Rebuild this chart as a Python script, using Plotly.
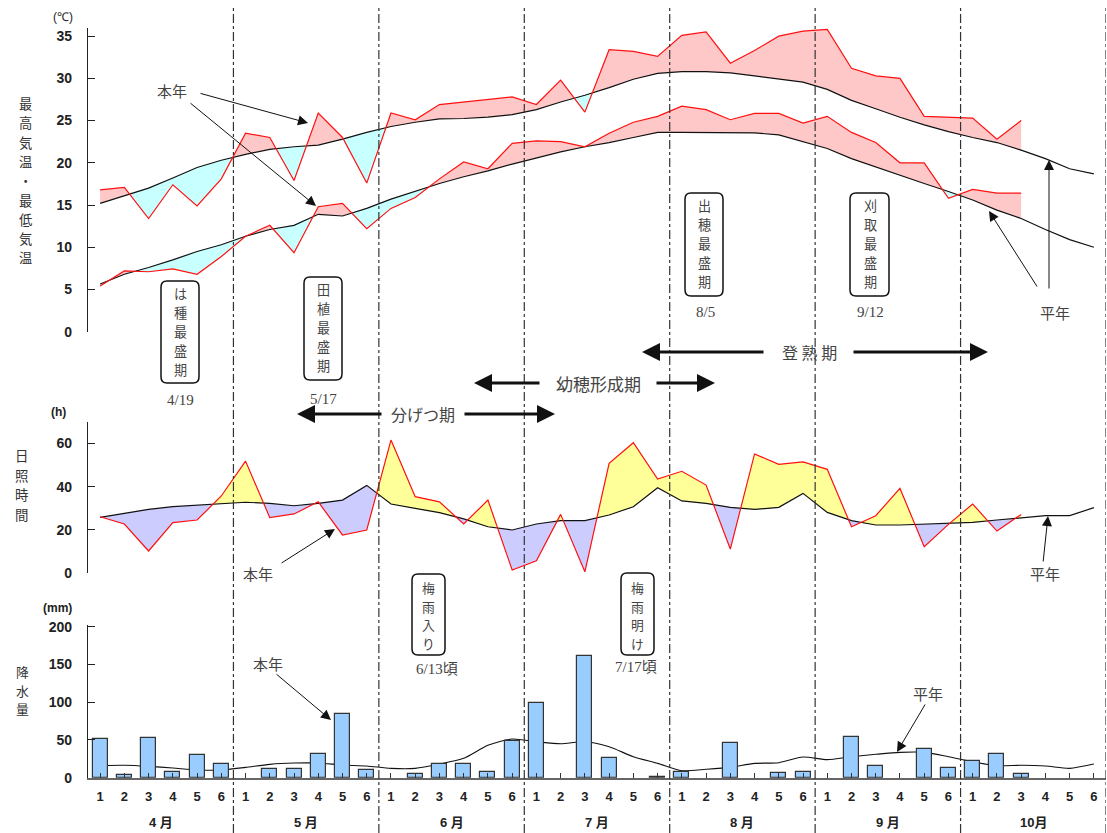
import plotly.graph_objects as go

W, H = 1107, 833
ML, MR = 88, 1
PW = W - ML - MR

# ---------------- data ----------------
periods = list(range(42))
period_labels = [str(i) for i in range(1, 7)] * 7
months = ["4 月", "5 月", "6 月", "7 月", "8 月", "9 月", "10月"]

max_this = [16.8, 17.1, 13.4, 17.4, 14.9, 18.1,
            23.5, 23.0, 17.9, 25.9, 23.0, 17.6,
            25.9, 25.1, 26.9, 27.2, 27.5, 27.8,
            26.9, 29.8, 26.0, 33.4, 33.2, 32.6,
            35.1, 35.5, 31.8, 33.3, 35.0, 35.6,
            35.8, 31.2, 30.3, 30.0, 25.5, 25.4,
            25.3, 22.8, 25.0]
max_norm = [15.2, 16.1, 17.0, 18.2, 19.45, 20.3,
            21.0, 21.6, 21.9, 22.1, 22.8, 23.6,
            24.3, 24.8, 25.2, 25.25, 25.4, 25.7,
            26.3, 27.2, 28.0, 28.9, 29.9, 30.6,
            30.8, 30.8, 30.65, 30.3, 29.9, 29.55,
            28.7, 27.4, 26.4, 25.4, 24.5, 23.7,
            23.0, 22.4, 21.5, 20.5, 19.3, 18.7]
min_this = [5.4, 7.2, 7.1, 7.45, 6.8, 8.9,
            11.3, 12.6, 9.35, 14.8, 15.2, 12.2,
            14.6, 15.9, 18.1, 20.1, 19.3, 22.3,
            22.6, 22.5, 21.9, 23.5, 24.8, 25.5,
            26.7, 26.3, 25.1, 25.85, 25.85, 24.7,
            25.5, 23.6, 22.4, 20.0, 20.0, 15.8,
            16.85, 16.4, 16.4]
min_norm = [5.65, 6.8, 7.6, 8.5, 9.5, 10.3,
            11.3, 12.1, 12.6, 13.9, 13.7, 14.6,
            15.7, 16.6, 17.55, 18.35, 19.05, 19.85,
            20.6, 21.3, 21.9, 22.4, 23.0, 23.6,
            23.6, 23.6, 23.6, 23.55, 23.3, 22.5,
            21.7, 20.5, 19.5, 18.5, 17.55, 16.6,
            15.6, 14.4, 13.4, 12.1, 10.9, 10.0]
sun_this = [26.1, 22.75, 10.3, 23.4, 24.6, 35.7,
            51.8, 25.7, 27.4, 33.0, 17.7, 20.0,
            61.5, 35.4, 33.0, 22.75, 33.8, 1.5,
            5.8, 27.2, 0.7, 50.8, 60.3, 43.5,
            47.1, 40.75, 11.2, 55.1, 50.3, 51.4,
            48.0, 21.5, 26.6, 39.2, 12.3, 22.6,
            32.0, 19.5, 27.2]
sun_norm = [25.8, 27.7, 29.5, 30.75, 31.5, 32.3,
            32.8, 32.3, 31.2, 32.3, 33.8, 40.6,
            32.0, 30.0, 28.0, 25.1, 21.5, 20.0,
            22.75, 24.3, 24.3, 26.9, 30.75, 39.5,
            33.4, 32.3, 30.45, 29.5, 30.45, 36.9,
            28.1, 24.3, 22.3, 22.3, 22.6, 22.9,
            23.5, 24.6, 25.7, 26.6, 26.6, 30.3]
rain_this = [50.8, 3.2, 53.0, 7.5, 29.6, 18.6,
             0, 11.5, 11.5, 31.0, 84.0, 9.7,
             0, 4.9, 18.6, 18.6, 8.0, 49.0,
             98.5, 0, 160.8, 25.7, 0, 1.0,
             8.0, 0, 45.5, 0, 6.6, 8.0,
             0, 54.3, 15.0, 0, 37.6, 12.8,
             22.1, 31.0, 4.5, None, None, None]
rain_norm = [15.9, 16.4, 15.0, 12.8, 10.2, 10.2,
             13.7, 17.7, 19.4, 19.4, 16.8, 15.5,
             12.4, 12.4, 18.1, 25.7, 42.9, 51.3,
             47.7, 45.0, 47.7, 41.0, 27.8, 19.0,
             9.3, 11.1, 13.7, 19.0, 19.9, 27.4,
             23.9, 27.8, 31.0, 33.6, 33.6, 27.8,
             21.2, 15.9, 16.4, 15.5, 12.4, 18.1]

temp_ticks = [0, 5, 10, 15, 20, 25, 30, 35]
sun_ticks = [0, 20, 40, 60]
rain_ticks = [0, 50, 100, 150, 200]
month_bounds = [5.5, 11.5, 17.5, 23.5, 29.5, 35.5, 41.5]

CJK = "Noto Sans CJK JP"
SERIF = "Liberation Serif, Noto Sans CJK JP"
SANS = "Liberation Sans, Arial, sans-serif"
TXT = "#444"


def px(x):
    return (x - ML) / PW


def py(y):
    return 1 - y / H


def split_fill(a, b):
    n = len(a)
    xs, A, B = [periods[0]], [a[0]], [b[0]]
    for i in range(n - 1):
        d0 = a[i] - b[i]
        d1 = a[i + 1] - b[i + 1]
        if d0 * d1 < 0:
            t = d0 / (d0 - d1)
            xs.append(periods[i] + t * (periods[i + 1] - periods[i]))
            yc = b[i] + t * (b[i + 1] - b[i])
            A.append(yc)
            B.append(yc)
        xs.append(periods[i + 1])
        A.append(a[i + 1])
        B.append(b[i + 1])
    hi = [max(p, q) for p, q in zip(A, B)]
    lo = [min(p, q) for p, q in zip(A, B)]
    return xs, B, hi, lo


fig = go.Figure()


def add_fill(a, b, yaxis, col_hi, col_lo):
    xs, B, hi, lo = split_fill(a, b[:len(a)])
    for top, col in ((hi, col_hi), (lo, col_lo)):
        fig.add_trace(go.Scatter(x=xs, y=B, mode="lines", line=dict(width=0),
                                 yaxis=yaxis, hoverinfo="skip", showlegend=False))
        fig.add_trace(go.Scatter(x=xs, y=top, mode="lines", line=dict(width=0),
                                 fill="tonexty", fillcolor=col, yaxis=yaxis,
                                 hoverinfo="skip", showlegend=False))


def add_lines(this, norm, yaxis):
    fig.add_trace(go.Scatter(x=periods, y=norm, mode="lines", yaxis=yaxis,
                             line=dict(color="#111", width=1.2), showlegend=False))
    fig.add_trace(go.Scatter(x=periods[:len(this)], y=this, mode="lines", yaxis=yaxis,
                             line=dict(color="#ff1010", width=1.2), showlegend=False))


# temperature
add_fill(max_this, max_norm, "y", "#ffc8c8", "#c8ffff")
add_fill(min_this, min_norm, "y", "#ffc8c8", "#c8ffff")
add_lines(max_this, max_norm, "y")
add_lines(min_this, min_norm, "y")
# sunshine
add_fill(sun_this, sun_norm, "y2", "#ffff99", "#ccccff")
add_lines(sun_this, sun_norm, "y2")
# precipitation
fig.add_trace(go.Scatter(x=periods, y=rain_norm, mode="lines", yaxis="y3",
                         line=dict(color="#111", width=1.1, shape="spline", smoothing=0.7),
                         showlegend=False))
fig.add_trace(go.Bar(x=periods, y=[v if v else None for v in rain_this], yaxis="y4", width=0.62,
                     marker=dict(color="#99ccff", line=dict(color="#333", width=1.2)),
                     showlegend=False))

yax = dict(showline=True, linecolor="#222", linewidth=1.3, ticks="inside", ticklen=7,
           tickwidth=1.2, tickcolor="#222", showgrid=False, zeroline=False,
           tickfont=dict(family=SANS, size=14, color="#222", weight="bold"),
           ticklabelstandoff=12, anchor="x", fixedrange=True)

fig.update_layout(
    width=W, height=H,
    margin=dict(l=ML, r=MR, t=0, b=0, autoexpand=False),
    paper_bgcolor="white", plot_bgcolor="white",
    bargap=0,
    xaxis=dict(range=[-0.5, 41.5], tickmode="array", tickvals=periods, ticktext=period_labels,
               showline=True, linecolor="#666", linewidth=1.5, ticks="inside", ticklen=5,
               tickcolor="#333", tickwidth=1, showgrid=False, zeroline=False, anchor="y3",
               tickfont=dict(family=SANS, size=13, color="#222", weight="bold"),
               ticklabelstandoff=6, fixedrange=True),
    yaxis=dict(domain=[py(331.7), py(27.7)], range=[0, 36], tickvals=temp_ticks, **yax),
    yaxis2=dict(domain=[py(573.3), py(421.7)], range=[0, 70], tickvals=sun_ticks, **yax),
    yaxis3=dict(domain=[py(777.7), py(625)], range=[0, 202.3], tickvals=rain_ticks, **yax),
    yaxis4=dict(overlaying="y3", range=[0, 202.3], visible=False, fixedrange=True),
)

shapes = []
annotations = []

for b in month_bounds:
    shapes.append(dict(type="line", xref="x", yref="paper", x0=b, x1=b, y0=py(833), y1=py(7),
                       line=dict(color="#333", width=1.2, dash="dashdot"), layer="above"))


def rrect(x0, y0, x1, y1, r=6):
    p = (f"M {px(x0 + r)},{py(y0)} L {px(x1 - r)},{py(y0)} Q {px(x1)},{py(y0)} {px(x1)},{py(y0 + r)} "
         f"L {px(x1)},{py(y1 - r)} Q {px(x1)},{py(y1)} {px(x1 - r)},{py(y1)} "
         f"L {px(x0 + r)},{py(y1)} Q {px(x0)},{py(y1)} {px(x0)},{py(y1 - r)} "
         f"L {px(x0)},{py(y0 + r)} Q {px(x0)},{py(y0)} {px(x0 + r)},{py(y0)} Z")
    shapes.append(dict(type="path", path=p, xref="paper", yref="paper",
                       line=dict(color="#111", width=1.5), fillcolor="white", layer="above"))


def txt(s, x, y, size=15, family=CJK, color=TXT, weight="normal"):
    annotations.append(dict(text=s, x=px(x), y=py(y), xref="paper", yref="paper",
                            showarrow=False, xanchor="center", yanchor="middle",
                            font=dict(family=family, size=size, color=color, weight=weight)))


def vtext(s, x, y_first, step, color=TXT):
    # one text element, one character per line; line pitch = 1.3 * base size
    base = step / 1.3
    glyph = round(step / 1.45, 1)
    body = "<br>".join(f"<span style='font-size:{glyph}px'>{ch}</span>" for ch in s)
    yc = y_first + step * (len(s) - 1) / 2
    txt(body, x, yc, size=base, color=color)


def arrow(xh, yh, xt, yt, width=1.0, size=2.0, head=2):
    annotations.append(dict(text="", x=px(xh), y=py(yh), xref="paper", yref="paper",
                            ax=xt - xh, ay=yt - yh, showarrow=True, arrowhead=head,
                            arrowsize=size, arrowwidth=width, arrowcolor="#111",
                            standoff=0, startstandoff=0))


# axis titles and units
vtext("最高気温・最低気温", 25, 103, 19.3, color="#333")
vtext("日照時間", 21, 455, 19.5, color="#333")
vtext("降水量", 22, 671, 18.5, color="#333")
txt("(℃)", 63, 17, size=12, family=SANS, color="#222")
txt("(h)", 58, 412, size=12, family=SANS, color="#222", weight="bold")
txt("(mm)", 57, 608, size=12, family=SANS, color="#222", weight="bold")

# month labels
for m, lab in enumerate(months):
    annotations.append(dict(text=lab, x=2.5 + 6 * m, y=py(822), xref="x", yref="paper",
                            yanchor="middle", showarrow=False,
                            font=dict(family=SANS + ", Noto Sans CJK JP", size=13,
                                      color="#222", weight="bold")))

# boxes with vertical text
rrect(161, 281, 199, 383)
vtext("は種最盛期", 180, 293, 19)
txt("4/19", 180, 400, size=15, family=SERIF)
rrect(304, 277, 342, 380)
vtext("田植最盛期", 323, 289, 19)
txt("5/17", 323, 399, size=15, family=SERIF)
rrect(685, 193, 723, 296)
vtext("出穂最盛期", 704, 205, 19)
txt("8/5", 705, 312, size=15, family=SERIF)
rrect(850, 193, 889, 296)
vtext("刈取最盛期", 870, 205, 19)
txt("9/12", 870, 312, size=15, family=SERIF)
rrect(412, 574, 445, 655)
vtext("梅雨入り", 428, 588, 18.5)
txt("6/13頃", 437, 669, size=15, family=SERIF)
rrect(621, 573, 654, 655)
vtext("梅雨明け", 637, 588, 18.5)
txt("7/17頃", 636, 667, size=15, family=SERIF)

# growth stage double arrows
for (yy, l_head, l_tail, r_tail, r_head, label, cx, fs) in [
        (352, 642, 765, 852, 988, "登 熟 期", 809, 16),
        (383, 474, 541, 655, 715, "幼穂形成期", 598, 17),
        (414, 297, 383, 463, 555, "分げつ期", 423, 16)]:
    arrow(l_head, yy, l_tail, yy, width=3, size=1.2)
    arrow(r_head, yy, r_tail, yy, width=3, size=1.2)
    txt(label, cx, yy, size=fs)

# 本年 / 平年 pointers
txt("本年", 172, 90)
arrow(308, 123, 199, 93)
arrow(316, 206, 189, 102)
txt("平年", 1055, 313)
arrow(1049, 160, 1049, 290)
arrow(989, 211, 1038, 288)
txt("本年", 258, 573)
arrow(335, 529, 280, 564)
txt("平年", 1045, 573)
arrow(1048, 516, 1043, 563)
txt("本年", 268, 663)
arrow(331, 720, 275, 673)
txt("平年", 928, 693)
arrow(897, 752, 926, 703)

fig.update_layout(shapes=shapes, annotations=annotations)

fig.write_html("out.html", config={"displayModeBar": False},
               post_script="document.body.style.margin='0';")
